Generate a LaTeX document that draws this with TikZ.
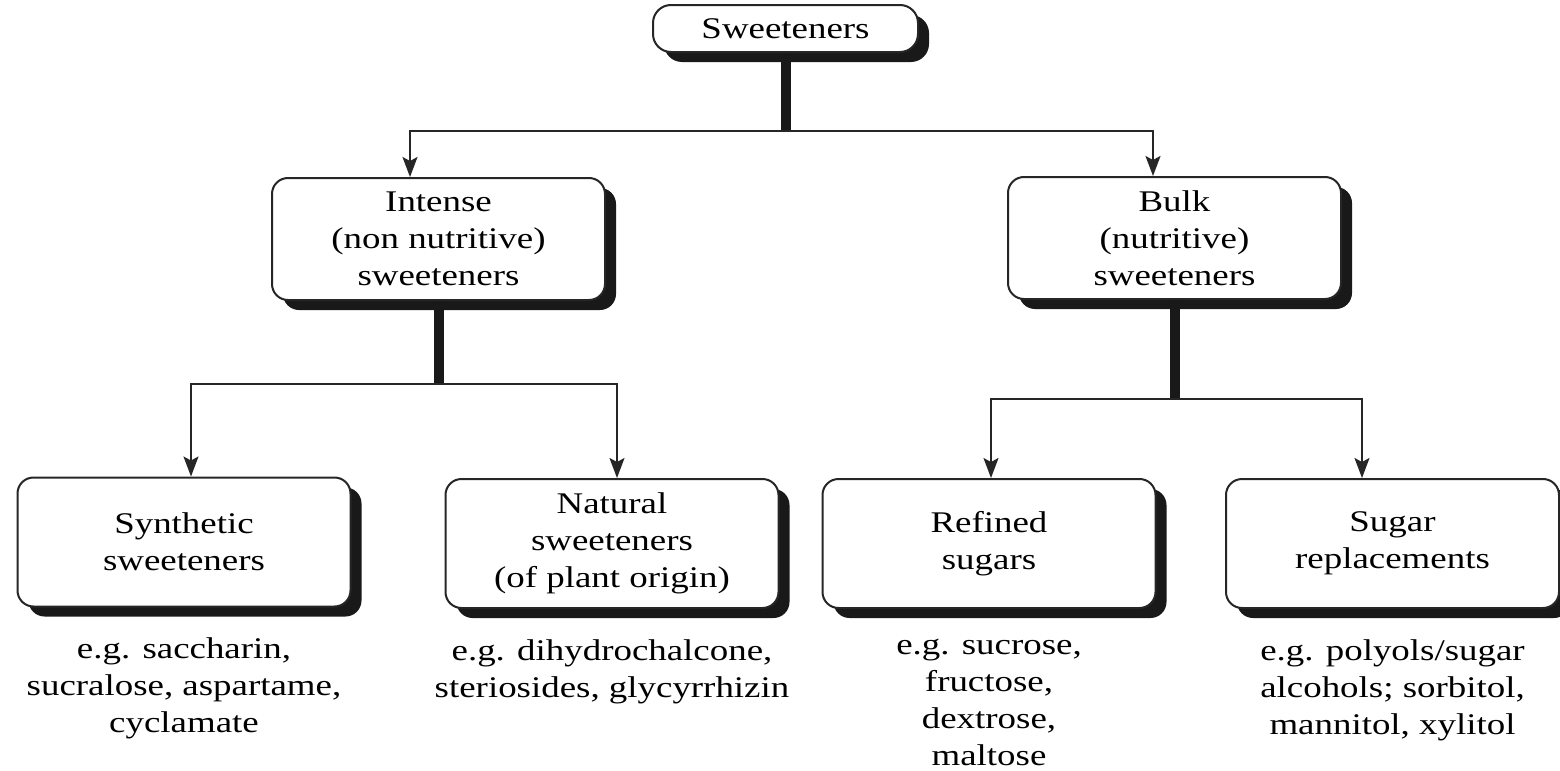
\documentclass[tikz,border=0pt]{standalone}
\usepackage{fontspec}
\setmainfont{Liberation Serif}[FakeStretch=1.23]
\usetikzlibrary{arrows.meta,positioning,shadows}

\begin{document}
\begin{tikzpicture}[
  x=0.5pt, y=-0.5pt,
  font=\fontsize{15pt}{18.5pt}\selectfont,
  box/.style={draw=black!85, line width=1pt, rounded corners=8pt, align=center, fill=white,
    minimum width=166.5pt, minimum height=64.5pt, inner sep=2pt,
    drop shadow={shadow xshift=5.5pt, shadow yshift=-5pt, fill=black!90, opacity=1}},
  stem/.style={line width=5pt, draw=black!90},
  arrow/.style={-{Stealth[length=10pt, width=7.5pt, inset=2pt]}, line width=0.9pt, draw=black!85},
  note/.style={align=center, inner sep=0pt}
]
\useasboundingbox (0,0) rectangle (1560,771);
\fill[white] (0,0) rectangle (1560,771);

\node[box, minimum width=132.5pt, minimum height=23.5pt, rounded corners=9pt] (sweet) at (785.5,28.5) {Sweeteners};

\node[box, minimum height=61pt] (intense) at (438.5,239) {Intense\\(non nutritive)\\sweeteners};
\node[box, minimum height=61pt] (bulk) at (1174.5,238) {Bulk\\(nutritive)\\sweeteners};

\node[box] (synth) at (184,542) {Synthetic\\sweeteners};
\node[box] (natural) at (612,543.5) {Natural\\sweeteners\\(of plant origin)};
\node[box] (refined) at (989,543.5) {Refined\\sugars};
\node[box] (replace) at (1392.5,543.5) {Sugar\\replacements};

% examples under the boxes
\node[note, below=15pt of synth] (synthex) {e.g. saccharin,\\sucralose, aspartame,\\cyclamate};
\node[note, below=15pt of natural] (naturalex) {e.g. dihydrochalcone,\\steriosides, glycyrrhizin};
\node[note, below=15pt of refined] (refinedex) {e.g. sucrose,\\fructose,\\dextrose,\\maltose};
\node[note, below=15pt of replace] (replaceex) {e.g. polyols/sugar\\alcohols; sorbitol,\\mannitol, xylitol};

% junctions
\coordinate[below=39pt of sweet] (j0);
\coordinate[below=41.5pt of intense] (j1);
\coordinate[below=49.5pt of bulk] (j2);

\draw[stem] (sweet) -- (j0);
\draw[stem] (intense) -- (j1);
\draw[stem] (bulk) -- (j2);

\draw[arrow] (j0) -| ([xshift=-14.25pt]intense.north);
\draw[arrow] (j0) -| ([xshift=-10.75pt]bulk.north);
\foreach \t/\dx in {synth/3.5pt, natural/2.5pt} {
  \draw[arrow] (j1) -| ([xshift=\dx]\t.north);
}
\foreach \t/\dx in {refined/1pt, replace/-15.25pt} {
  \draw[arrow] (j2) -| ([xshift=\dx]\t.north);
}
\end{tikzpicture}
\end{document}
